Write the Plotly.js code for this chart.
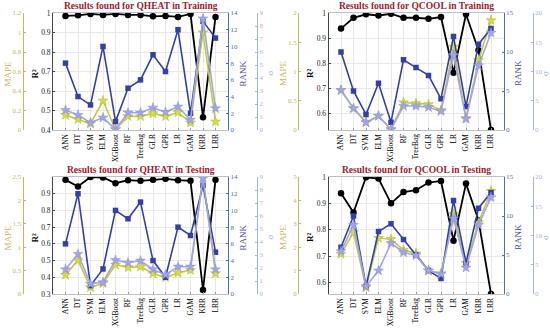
<!DOCTYPE html>
<html><head><meta charset="utf-8">
<script src="https://cdn.plot.ly/plotly-3.0.1.min.js"></script>
<style>html,body{margin:0;padding:0;background:#fff}#chart{width:550px;height:328px}</style>
</head><body><div id="chart"></div>
<script>
const categories = ["ANN","DT","SVM","ELM","XGBoost","RF","TreeBag","GLR","GPR","LR","GAM","KRR","LRR"];

// QHEAT Training
const r2_heatTrain    = [0.985,0.988,0.995,0.990,0.995,0.990,0.990,0.983,0.985,0.980,0.995,0.465,0.980];
const mape_heatTrain  = [0.153,0.110,0.065,0.300,0.005,0.140,0.140,0.170,0.140,0.180,0.075,1.000,0.085];
const rank_heatTrain  = [8,4,3,10,1,5,6,9,7,12,2,13,11];
const sigma_heatTrain = [1.53,1.15,0.56,0.95,0.05,1.33,1.33,1.71,1.38,1.79,0.77,8.57,1.66];

// QCOOL Training
const r2_coolTrain    = [0.938,0.981,0.995,0.990,0.997,0.981,0.981,0.977,0.984,0.762,0.995,0.852,0.534];
const mape_coolTrain  = [0.68,0.37,0.13,0.24,0.01,0.47,0.455,0.44,0.34,1.42,0.20,1.19,1.875];
const rank_coolTrain  = [10,5,2,6,1,9,8,7,4,12,3,11,13];
const sigma_coolTrain = [6.8,3.7,1.3,2.4,0.1,4.1,4.1,3.9,3.2,12.8,1.9,11.0,16.6];

// QHEAT Testing
const r2_heatTest    = [0.982,0.942,0.999,0.996,0.962,0.980,0.976,0.982,0.988,0.980,0.976,0.324,0.982];
const mape_heatTest  = [0.405,0.72,0.14,0.23,0.625,0.57,0.58,0.44,0.355,0.45,0.51,2.49,0.44];
const rank_heatTest  = [6,12,1,3,10,9,11,4,2,8,7,13,5];
const sigma_heatTest = [1.89,3.07,0.77,0.90,2.60,2.40,2.56,1.89,1.48,2.10,2.10,8.90,1.89];

// QCOOL Testing
const r2_coolTest    = [0.938,0.865,0.999,0.994,0.900,0.943,0.950,0.979,0.985,0.758,0.975,0.836,0.556];
const mape_coolTest  = [1.71,2.63,0.28,2.39,2.34,1.88,1.73,0.99,0.88,3.41,1.32,3.05,4.40];
const rank_coolTest  = [6,10,1,8,9,7,5,3,2,12,4,11,13];
const sigma_coolTest = [7.3,11.8,1.3,4.0,8.7,7.1,6.6,4.0,3.4,12.9,4.5,11.8,16.5];

const titles = ["Results found for QHEAT in Training","Results found for QCOOL in Training",
                "Results found for QHEAT in Testing","Results found for QCOOL in Testing"];

const C_MAPE_AX = "#c8b560", C_MAPE = "#c2cc3a", C_MAPE_MK = "#d6dc3c";
const C_RANK_AX = "#4d6fa8", C_RANK = "#3440a6";
const C_SIG_AX = "#9fb6e4", C_SIG = "#a0a4e8";
const C_RANKT = "#4a4aa8";
const FONT = "Liberation Serif, Times New Roman, serif";

const panels = [
  {r2:r2_heatTrain, mape:mape_heatTrain, rank:rank_heatTrain, sig:sigma_heatTrain,
   r2r:[0.4,1], r2t:[0.4,0.5,0.6,0.7,0.8,0.9,1], mr:[0,1.2], mt:[0,0.2,0.4,0.6,0.8,1,1.2],
   rr:[0,14], rt:[0,2,4,6,8,10,12,14], sr:[0,9], st:[0,1,2,3,4,5,6,7,8,9]},
  {r2:r2_coolTrain, mape:mape_coolTrain, rank:rank_coolTrain, sig:sigma_coolTrain,
   r2r:[0.534,1], r2t:[0.6,0.7,0.8,0.9,1], mr:[0,2], mt:[0,0.5,1,1.5,2],
   rr:[0,15], rt:[0,5,10,15], sr:[0,20], st:[0,5,10,15,20]},
  {r2:r2_heatTest, mape:mape_heatTest, rank:rank_heatTest, sig:sigma_heatTest,
   r2r:[0.3,0.999], r2t:[0.3,0.4,0.5,0.6,0.7,0.8,0.9], mr:[0,2.5], mt:[0,0.5,1,1.5,2,2.5],
   rr:[0,14], rt:[0,2,4,6,8,10,12,14], sr:[0,9], st:[0,1,2,3,4,5,6,7,8,9]},
  {r2:r2_coolTest, mape:mape_coolTest, rank:rank_coolTest, sig:sigma_coolTest,
   r2r:[0.556,1], r2t:[0.6,0.7,0.8,0.9,1], mr:[0,5], mt:[0,1,2,3,4,5],
   rr:[0,15], rt:[0,5,10,15], sr:[0,20], st:[0,5,10,15,20]}
];

const W = 550, H = 328;
const colOff = [0, 275.5, 0, 275.5];
const rowTop = [13, 13, 177, 177], rowBot = [130, 130, 294, 294];

const data = [];
const layout = {
  width: W, height: H, margin:{l:0,r:0,t:0,b:0}, showlegend:false,
  paper_bgcolor:"#fff", plot_bgcolor:"#fff", font:{family:FONT, size:7, color:"#000"},
  annotations: []
};

panels.forEach((p, i) => {
  const xi = i+1;
  const xn = xi === 1 ? "x" : "x"+xi;
  const xk = xi === 1 ? "xaxis" : "xaxis"+xi;
  const base = 4*i;
  const yn = k => (base+k === 1 ? "y" : "y"+(base+k));
  const yk = k => (base+k === 1 ? "yaxis" : "yaxis"+(base+k));
  const off = colOff[i];
  const x0 = (off+53)/W, x1 = (off+228)/W;
  const y0 = 1 - rowBot[i]/H, y1 = 1 - rowTop[i]/H;

  layout[xk] = {domain:[x0,x1], anchor:yn(1), range:[-1,13], tickmode:"array",
    tickvals: categories.map((c,j)=>j), ticktext: categories, tickangle:-90,
    tickfont:{family:FONT,size:7.5,color:"#000"}, showgrid:true, gridcolor:"#e8e8e8",
    showline:true, linecolor:"#bfbfbf", mirror:true, ticks:"inside", ticklen:2, tickcolor:"#999", zeroline:false};

  layout[yk(1)] = {domain:[y0,y1], anchor:xn, range:p.r2r, tickmode:"array", tickvals:p.r2t,
    tickfont:{family:FONT,size:7.5,color:"#222"}, showgrid:true, gridcolor:"#e8e8e8",
    showline:true, linecolor:"#444", ticks:"inside", ticklen:2, tickcolor:"#444", zeroline:false};
  layout[yk(2)] = {overlaying:yn(1), anchor:"free", position:(off+22.7)/W, side:"left", range:p.mr,
    tickmode:"array", tickvals:p.mt, tickfont:{family:FONT,size:7,color:C_MAPE_AX},
    showgrid:false, showline:true, linecolor:C_MAPE_AX, ticks:"inside", ticklen:2, tickcolor:C_MAPE_AX, zeroline:false};
  layout[yk(3)] = {overlaying:yn(1), anchor:xn, side:"right", range:p.rr, tickmode:"array", tickvals:p.rt,
    tickfont:{family:FONT,size:7,color:C_RANK_AX}, showgrid:false, showline:true, linecolor:C_RANK_AX,
    ticks:"inside", ticklen:2, tickcolor:C_RANK_AX, zeroline:false};
  layout[yk(4)] = {overlaying:yn(1), anchor:"free", position:(off+257)/W, side:"right", range:p.sr,
    tickmode:"array", tickvals:p.st, tickfont:{family:FONT,size:7,color:C_SIG_AX},
    showgrid:false, showline:true, linecolor:C_SIG_AX, ticks:"inside", ticklen:2, tickcolor:C_SIG_AX, zeroline:false};

  data.push({x:categories.map((c,j)=>j), y:p.mape, xaxis:xn, yaxis:yn(2), mode:"lines+markers",
    line:{color:C_MAPE,width:1.6}, marker:{symbol:"star",size:7.5,color:C_MAPE_MK,line:{color:"#aab52a",width:0.5}}});
  data.push({x:categories.map((c,j)=>j), y:p.sig, xaxis:xn, yaxis:yn(4), mode:"lines+markers",
    line:{color:C_SIG,width:1.6}, marker:{symbol:"star",size:7.5,color:C_SIG,line:{color:"#8c90d8",width:0.5}}});
  data.push({x:categories.map((c,j)=>j), y:p.rank, xaxis:xn, yaxis:yn(3), mode:"lines+markers",
    line:{color:C_RANK,width:1.6}, marker:{symbol:"square",size:5.5,color:C_RANK}});
  data.push({x:categories.map((c,j)=>j), y:p.r2, xaxis:xn, yaxis:yn(1), mode:"lines+markers",
    line:{color:"#000",width:1.8}, marker:{symbol:"circle",size:6.5,color:"#000"}});

  const ymid = 1 - ((rowTop[i]+rowBot[i])/2 + 2)/H;
  layout.annotations.push(
    {text:"<b>"+titles[i]+"</b>", x:(off+140.5)/W, y:1-(rowTop[i]-7)/H, xref:"paper", yref:"paper",
     showarrow:false, xanchor:"center", yanchor:"middle", font:{family:FONT,size:9.5,color:"#9b1b30"}},
    {text:"MAPE", x:(off+7)/W, y:ymid, xref:"paper", yref:"paper", showarrow:false, textangle:-90,
     xanchor:"center", yanchor:"middle", font:{family:FONT,size:9,color:C_MAPE_AX}},
    {text:"<b>R²</b>", x:(off+34)/W, y:ymid, xref:"paper", yref:"paper", showarrow:false, textangle:-90,
     xanchor:"center", yanchor:"middle", font:{family:FONT,size:9,color:"#000"}},
    {text:"RANK", x:(off+242)/W, y:ymid, xref:"paper", yref:"paper", showarrow:false, textangle:-90,
     xanchor:"center", yanchor:"middle", font:{family:FONT,size:9,color:C_RANKT}},
    {text:"σ", x:(off+269)/W, y:ymid, xref:"paper", yref:"paper", showarrow:false, textangle:-90,
     xanchor:"center", yanchor:"middle", font:{family:FONT,size:9,color:C_SIG_AX}}
  );
});

Plotly.newPlot("chart", data, layout, {staticPlot:true, displayModeBar:false});
</script></body></html>
